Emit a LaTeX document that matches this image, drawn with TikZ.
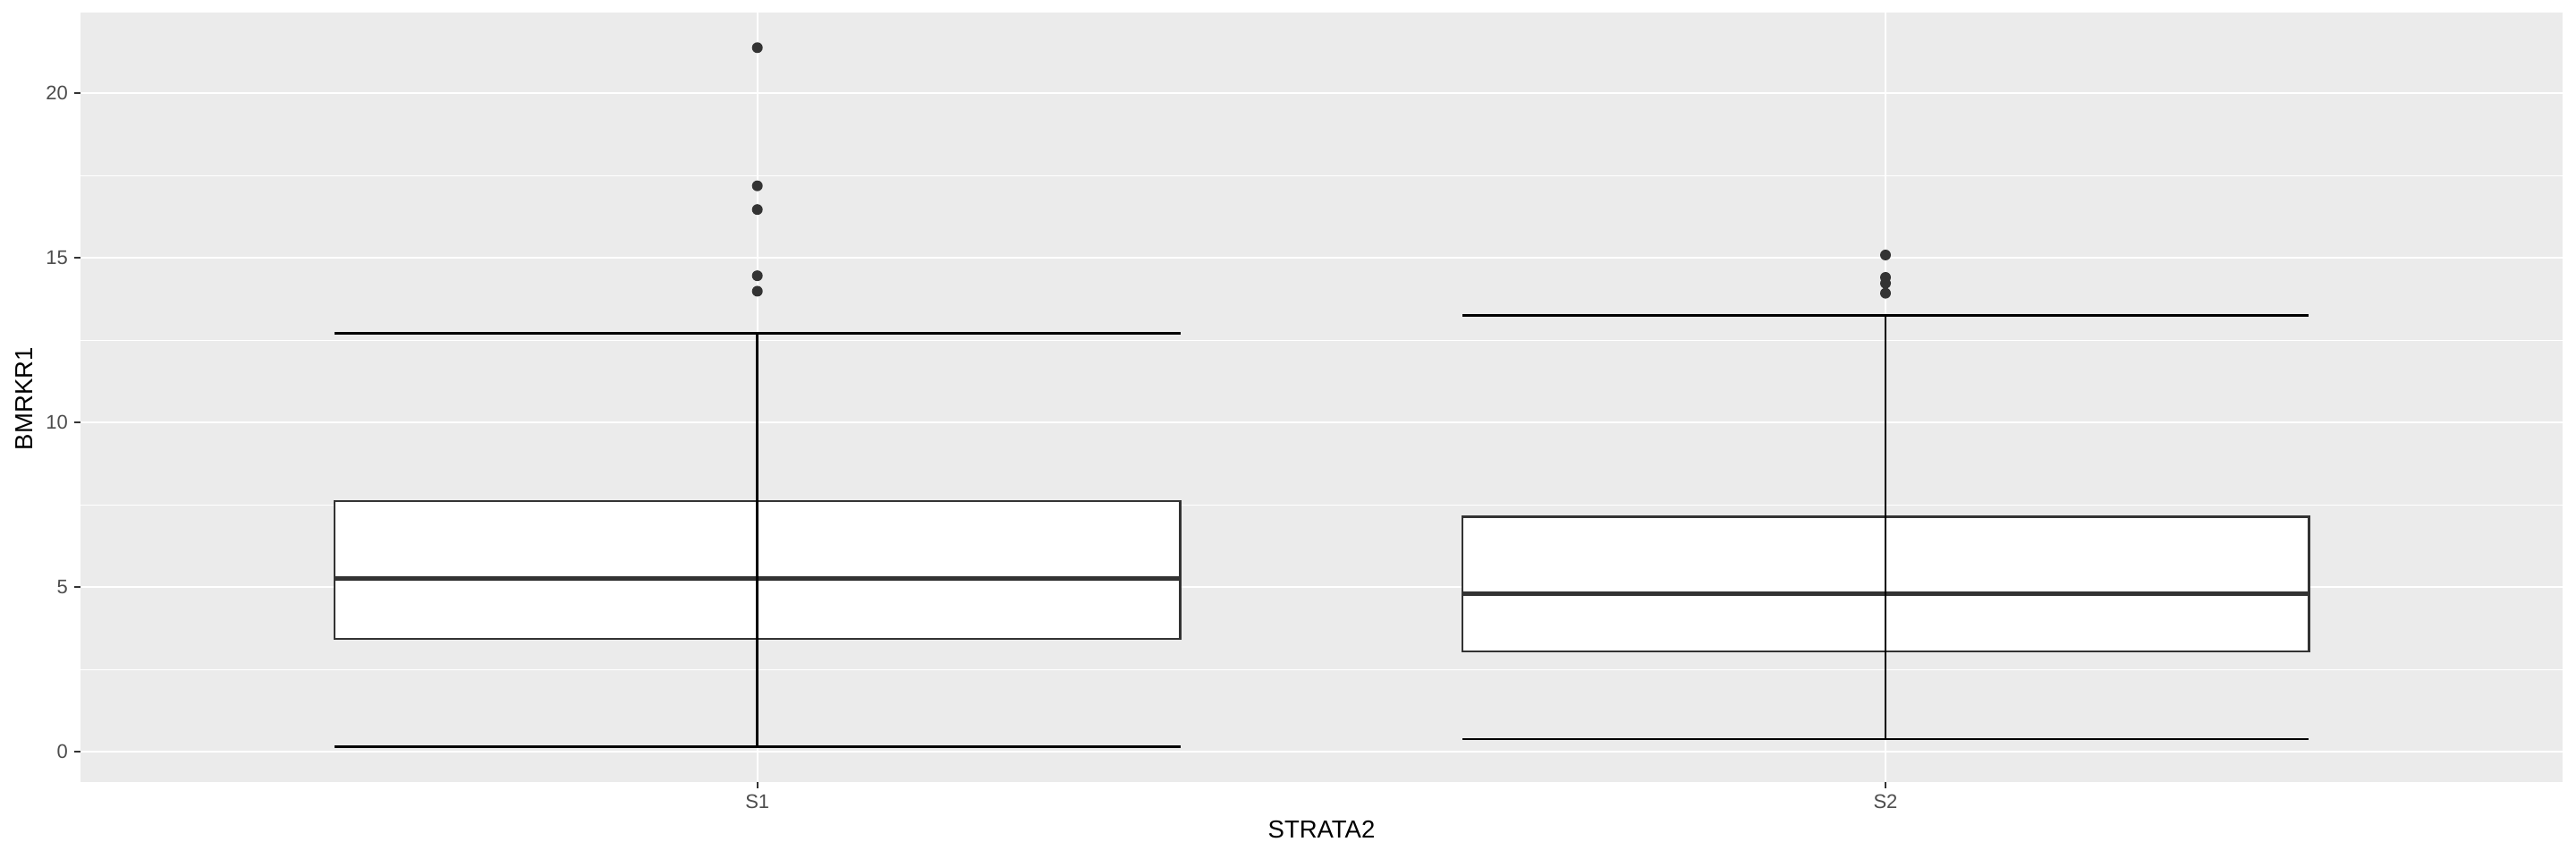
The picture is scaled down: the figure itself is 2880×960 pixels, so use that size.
\documentclass[tikz,border=0pt]{standalone}
\usepackage{fontspec}
\setmainfont{Liberation Sans}
\definecolor{panelbg}{HTML}{EBEBEB}
\definecolor{grey20}{HTML}{333333}
\definecolor{grey30}{HTML}{4D4D4D}
\begin{document}
\begin{tikzpicture}[x=1pt,y=1pt,
  major/.style={draw=white,line width=2.1pt},
  minor/.style={draw=white,line width=1.1pt},
  boxst/.style={draw=grey20,fill=white,line width=2.6pt},
  medst/.style={draw=grey20,line width=5.4pt},
  whisk/.style={draw=black,line width=2.6pt},
  tickst/.style={draw=grey20,line width=2.1pt},
  ticklab/.style={text=grey30,font=\fontsize{22}{26}\selectfont,inner sep=0pt},
  titlelab/.style={text=black,font=\fontsize{27.5}{32}\selectfont,inner sep=0pt},
  outl/.style={circle,fill=grey20,minimum size=12pt,inner sep=0pt}]
\useasboundingbox (0,0) rectangle (2880,960);
\fill[white] (0,0) rectangle (2880,960);
\begin{scope}[shift={(0,119.7)},yscale=36.8]
  % panel
  \fill[panelbg] (90,-0.907) rectangle (2865,22.46);
  \foreach \v in {2.5,7.5,12.5,17.5} \draw[minor] (90,\v) -- (2865,\v);
  \foreach \v in {0,5,10,15,20} \draw[major] (90,\v) -- (2865,\v);
  \foreach \x in {846.7,2108} \draw[major] (\x,-0.907) -- (\x,22.46);
  % axis ticks
  \foreach \v in {0,5,10,15,20} \draw[tickst] (82.5,\v) -- (90,\v);
  \foreach \x in {846.7,2108} \draw[tickst] (\x,-0.907) -- (\x,-1.111);
  % S1 box
  \draw[boxst] (373.8,3.432) rectangle (1319.6,7.617);
  \draw[medst] (373.8,5.266) -- (1319.6,5.266);
  \node[outl] (o11) at (846.7,21.386) {};
  \node[outl] (o12) at (846.7,17.19) {};
  \node[outl] (o13) at (846.7,16.47) {};
  \node[outl] (o14) at (846.7,14.46) {};
  \node[outl] (o15) at (846.7,13.99) {};
  % S2 box
  \draw[boxst] (1635.0,3.05) rectangle (2581.3,7.136);
  \draw[medst] (1635.0,4.81) -- (2581.3,4.81);
  \node[outl] (o21) at (2108,15.09) {};
  \node[outl] (o22) at (2108,14.41) {};
  \node[outl] (o23) at (2108,14.23) {};
  \node[outl] (o24) at (2108,13.93) {};
  % error bars (whiskers)
  \draw[whisk] (373.8,12.707) -- (1319.6,12.707);
  \draw[whisk] (373.8,0.152) -- (1319.6,0.152);
  \draw[whisk] (846.7,0.152) -- (846.7,12.707);
  \draw[whisk] (1635.0,13.255) -- (2581.3,13.255);
  \draw[whisk] (1635.0,0.386) -- (2581.3,0.386);
  \draw[whisk] (2108,0.386) -- (2108,13.255);
  % y tick labels
  \node[ticklab,anchor=east] (y0) at (76,0) {0};
  \node[ticklab,anchor=east] (y5) at (76,5) {5};
  \node[ticklab,anchor=east] (y10) at (76,10) {10};
  \node[ticklab,anchor=east] (y15) at (76,15) {15};
  \node[ticklab,anchor=east] (y20) at (76,20) {20};
\end{scope}
% x tick labels
\node[ticklab,anchor=base] (xs1) at (846.7,56.5) {S1};
\node[ticklab,anchor=base] (xs2) at (2108,56.5) {S2};
% axis titles
\node[titlelab,anchor=base] (xt) at (1477.5,23.3) {STRATA2};
\node[titlelab,anchor=base,rotate=90] (yt) at (36,514.2) {BMRKR1};
\end{tikzpicture}
\end{document}
